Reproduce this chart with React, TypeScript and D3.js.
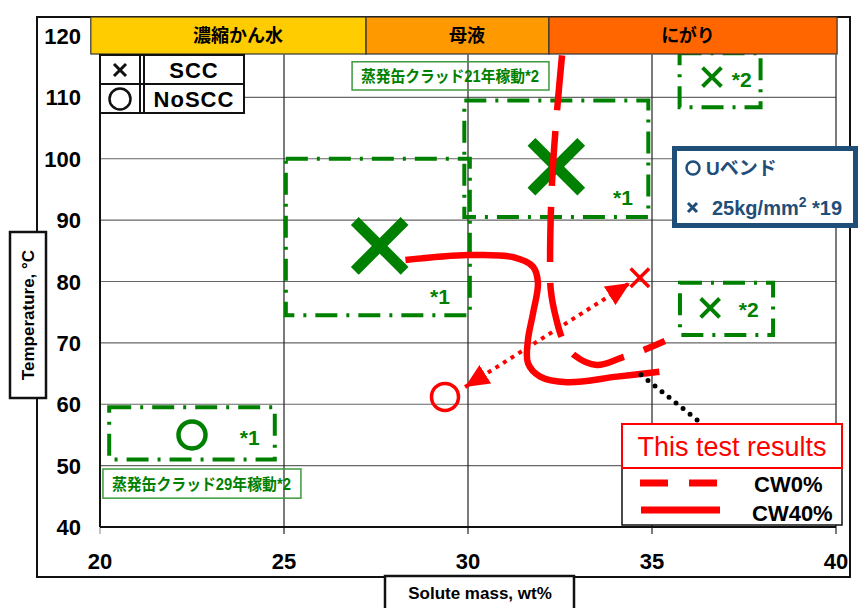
import React, { useEffect, useRef } from 'react';
import * as d3 from 'd3';

const xTicks = [20, 25, 30, 35, 40];
const yTicks = [40, 50, 60, 70, 80, 90, 100, 110, 120];

// solution zones along the top
const zoneNames = ['濃縮かん水', '母液', 'にがり'];
const zoneEdges = [19.75, 27.23, 32.2, 40.03];
const zoneLabelX = [23.75, 29.97, 35.98];
const zoneColors = ['#FFCC00', '#FF9900', '#FF6600'];

// earlier test ranges (dash-dot boxes)
const boxX0 = [20.25, 25.05, 29.9, 35.75, 35.76];
const boxX1 = [24.75, 30.05, 34.9, 37.95, 38.29];
const boxY0 = [51, 74.5, 90.5, 108.4, 71.3];
const boxY1 = [59.5, 100, 109.5, 117.2, 79.8];
const boxNotes = ['*1', '*1', '*1', '*2', '*2'];
const noteX = [23.8, 28.97, 33.94, 37.17, 37.36];
const noteY = [53.4, 76.3, 92.5, 111.7, 74.2];

// plant labels
const plantLabels = ['蒸発缶クラッド21年稼動*2', '蒸発缶クラッド29年稼動*2'];
const plantX0 = [26.85, 20.08];
const plantX1 = [32.2, 25.46];
const plantY0 = [111.2, 44.7];
const plantY1 = [115.8, 49.45];

// points
const sccBig = [[27.6, 85.8], [32.4, 98.7]];
const sccSmall = [[36.63, 113.3], [36.58, 75.7]];
const noScc = [[22.5, 55]];
const testScc = [[34.67, 80.6]];
const testNoScc = [[29.375, 61.2]];

// this test: boundary curves
const cw0 = [
  [32.6, 119.6], [32.42, 107.9], [32.28, 95.7], [32.23, 83.2], [32.25, 78.6],
  [32.39, 74.1], [32.58, 70.5], [32.91, 67.9], [33.5, 66.4], [34.18, 67.6],
  [34.8, 68.9], [35.35, 70.3],
];
const cw40 = [
  [28.3, 83.5], [30.0, 84.3], [31.2, 84.0], [31.77, 82.4], [31.9, 79.8],
  [31.77, 74.9], [31.63, 70.5], [31.63, 66.7], [31.96, 64.5], [32.69, 63.6],
  [34.05, 64.5], [35.2, 65.3],
];

const arrowEnds = [[29.92, 62.8], [34.4, 79.76]];
const pointerLine = [[34.7, 64.8], [36.36, 56.8]];

const GREEN = '#008000';
const RED = '#FF0000';
const BLUE = '#1F4E79';
const LATIN = '"Liberation Sans", Arial, sans-serif';
const CJK = '"Liberation Sans", "Noto Sans CJK JP", sans-serif';

const App = () => {
  const ref = useRef(null);

  useEffect(() => {
    const W = 865;
    const H = 608;
    d3.select(ref.current).selectAll('*').remove();

    const svg = d3.select(ref.current)
      .append('svg')
      .attr('width', W)
      .attr('height', H)
      .style('position', 'absolute')
      .style('left', 0)
      .style('top', 0)
      .style('background', '#fff');

    const x = d3.scaleLinear().domain([20, 40]).range([100, 836]);
    const y = d3.scaleLinear().domain([40, 120]).range([527, 36]);

    const defs = svg.append('defs');
    defs.append('marker')
      .attr('id', 'arrowHead')
      .attr('viewBox', '0 0 24 22')
      .attr('refX', 24)
      .attr('refY', 11)
      .attr('markerWidth', 24)
      .attr('markerHeight', 22)
      .attr('markerUnits', 'userSpaceOnUse')
      .attr('orient', 'auto-start-reverse')
      .append('path')
      .attr('d', 'M0,0 L24,11 L0,22 Z')
      .attr('fill', RED);

    // outer frame
    svg.append('rect')
      .attr('x', 37).attr('y', 17)
      .attr('width', 813).attr('height', 560)
      .attr('fill', 'none').attr('stroke', '#111').attr('stroke-width', 2);

    // gridlines
    const g = svg.append('g');
    g.selectAll('.hgrid')
      .data(yTicks.filter(d => d > 40 && d < 120))
      .enter().append('line')
      .attr('x1', x(20)).attr('x2', x(40))
      .attr('y1', d => y(d)).attr('y2', d => y(d))
      .attr('stroke', '#666').attr('stroke-width', 1.2);
    g.selectAll('.vgrid')
      .data(xTicks)
      .enter().append('line')
      .attr('x1', d => x(d)).attr('x2', d => x(d))
      .attr('y1', d => (d === 20 ? y(40) : y(117))).attr('y2', y(40) + 7)
      .attr('stroke', d => (d === 20 ? '#999' : '#222')).attr('stroke-width', 1.2);

    // axes
    g.append('line')
      .attr('x1', x(20)).attr('x2', x(20)).attr('y1', y(117)).attr('y2', y(40))
      .attr('stroke', '#111').attr('stroke-width', 2);
    g.append('line')
      .attr('x1', x(20)).attr('x2', x(40)).attr('y1', y(40)).attr('y2', y(40))
      .attr('stroke', '#111').attr('stroke-width', 2);

    // tick labels
    g.selectAll('.ylab')
      .data(yTicks)
      .enter().append('text')
      .attr('x', 81).attr('y', d => y(d) + 8)
      .attr('text-anchor', 'end')
      .attr('font-family', LATIN).attr('font-weight', 'bold').attr('font-size', 22)
      .text(d => d);
    g.selectAll('.xlab')
      .data(xTicks)
      .enter().append('text')
      .attr('x', d => x(d)).attr('y', 569)
      .attr('text-anchor', 'middle')
      .attr('font-family', LATIN).attr('font-weight', 'bold').attr('font-size', 22)
      .text(d => d);

    // dash-dot boxes
    const boxes = d3.range(boxX0.length);
    g.selectAll('.box')
      .data(boxes)
      .enter().append('rect')
      .attr('x', i => x(boxX0[i])).attr('y', i => y(boxY1[i]))
      .attr('width', i => x(boxX1[i]) - x(boxX0[i]))
      .attr('height', i => y(boxY0[i]) - y(boxY1[i]))
      .attr('fill', 'none').attr('stroke', GREEN).attr('stroke-width', 4)
      .attr('stroke-dasharray', '22,9,3,9');
    g.selectAll('.note')
      .data(boxes)
      .enter().append('text')
      .attr('x', i => x(noteX[i])).attr('y', i => y(noteY[i]))
      .attr('font-family', LATIN).attr('font-weight', 'bold').attr('font-size', 21)
      .attr('fill', GREEN)
      .text(i => boxNotes[i]);

    // plant labels
    plantLabels.forEach((t, i) => {
      g.append('rect')
        .attr('x', x(plantX0[i])).attr('y', y(plantY1[i]))
        .attr('width', x(plantX1[i]) - x(plantX0[i]))
        .attr('height', y(plantY0[i]) - y(plantY1[i]))
        .attr('fill', 'none').attr('stroke', '#3C9A3C').attr('stroke-width', 1.5);
      g.append('text')
        .attr('x', x(plantX0[i]) + 9)
        .attr('y', (y(plantY0[i]) + y(plantY1[i])) / 2 + 6)
        .attr('textLength', x(plantX1[i]) - x(plantX0[i]) - 19)
        .attr('lengthAdjust', 'spacingAndGlyphs')
        .attr('font-family', CJK).attr('font-weight', 'bold').attr('font-size', 16)
        .attr('fill', GREEN)
        .text(t);
    });

    // green markers
    const cross = (sel, data, half, width, color) => {
      data.forEach(d => {
        const cx = x(d[0]);
        const cy = y(d[1]);
        sel.append('path')
          .attr('d', `M${cx - half},${cy - half}L${cx + half},${cy + half}M${cx - half},${cy + half}L${cx + half},${cy - half}`)
          .attr('stroke', color).attr('stroke-width', width)
          .attr('stroke-linecap', 'square').attr('fill', 'none');
      });
    };
    cross(g, sccBig, 21, 11, GREEN);
    cross(g, sccSmall, 8, 4, GREEN);
    g.selectAll('.noscc')
      .data(noScc)
      .enter().append('circle')
      .attr('cx', d => x(d[0])).attr('cy', d => y(d[1])).attr('r', 13.5)
      .attr('fill', 'none').attr('stroke', GREEN).attr('stroke-width', 4.5);

    // this test results
    const line = d3.line()
      .x(d => x(d[0])).y(d => y(d[1]))
      .curve(d3.curveCatmullRom.alpha(0.5));
    g.append('path')
      .attr('d', line(cw40))
      .attr('fill', 'none').attr('stroke', RED).attr('stroke-width', 6.5);
    g.append('path')
      .attr('d', line(cw0))
      .attr('fill', 'none').attr('stroke', RED).attr('stroke-width', 6.5)
      .attr('stroke-dasharray', '55,21').attr('stroke-dashoffset', 59);

    g.append('line')
      .attr('x1', x(arrowEnds[0][0])).attr('y1', y(arrowEnds[0][1]))
      .attr('x2', x(arrowEnds[1][0])).attr('y2', y(arrowEnds[1][1]))
      .attr('stroke', RED).attr('stroke-width', 4)
      .attr('stroke-dasharray', '4,5')
      .attr('marker-start', 'url(#arrowHead)')
      .attr('marker-end', 'url(#arrowHead)');
    cross(g, testScc, 8, 3.5, RED);
    g.selectAll('.tnoscc')
      .data(testNoScc)
      .enter().append('circle')
      .attr('cx', d => x(d[0])).attr('cy', d => y(d[1])).attr('r', 13.5)
      .attr('fill', 'none').attr('stroke', RED).attr('stroke-width', 3.5);

    g.append('line')
      .attr('x1', x(pointerLine[0][0])).attr('y1', y(pointerLine[0][1]))
      .attr('x2', x(pointerLine[1][0])).attr('y2', y(pointerLine[1][1]))
      .attr('stroke', '#000').attr('stroke-width', 5)
      .attr('stroke-linecap', 'round').attr('stroke-dasharray', '0,9');

    // zone band
    zoneNames.forEach((n, i) => {
      g.append('rect')
        .attr('x', x(zoneEdges[i])).attr('y', 17)
        .attr('width', x(zoneEdges[i + 1]) - x(zoneEdges[i])).attr('height', 37)
        .attr('fill', zoneColors[i]).attr('stroke', '#333').attr('stroke-width', 1.2);
      g.append('text')
        .attr('x', x(zoneLabelX[i])).attr('y', 42)
        .attr('text-anchor', 'middle')
        .attr('font-family', '"Noto Sans CJK JP", sans-serif').attr('font-weight', 'bold')
        .attr('font-size', 18)
        .text(n);
    });

    // SCC key table
    const key = g.append('g');
    key.append('rect').attr('x', 100).attr('y', 55).attr('width', 144).attr('height', 58)
      .attr('fill', '#fff').attr('stroke', '#111').attr('stroke-width', 2);
    key.append('line').attr('x1', 140).attr('x2', 140).attr('y1', 55).attr('y2', 113)
      .attr('stroke', '#111').attr('stroke-width', 2);
    key.append('line').attr('x1', 144).attr('x2', 144).attr('y1', 55).attr('y2', 113)
      .attr('stroke', '#111').attr('stroke-width', 2);
    key.append('line').attr('x1', 100).attr('x2', 244).attr('y1', 84).attr('y2', 84)
      .attr('stroke', '#111').attr('stroke-width', 2);
    key.append('path').attr('d', 'M114,64L126,76M114,76L126,64')
      .attr('stroke', '#111').attr('stroke-width', 3);
    key.append('circle').attr('cx', 120).attr('cy', 99).attr('r', 10.5)
      .attr('fill', 'none').attr('stroke', '#111').attr('stroke-width', 2.5);
    key.append('text').attr('x', 194).attr('y', 78).attr('text-anchor', 'middle')
      .attr('font-family', LATIN).attr('font-weight', 'bold').attr('font-size', 22)
      .attr('letter-spacing', 1)
      .text('SCC');
    key.append('text').attr('x', 194).attr('y', 107).attr('text-anchor', 'middle')
      .attr('font-family', LATIN).attr('font-weight', 'bold').attr('font-size', 22)
      .attr('letter-spacing', 1)
      .text('NoSCC');

    // reference (blue) key
    const bk = g.append('g');
    bk.append('rect').attr('x', 674.5).attr('y', 148.5).attr('width', 181).attr('height', 77)
      .attr('fill', '#fff').attr('stroke', BLUE).attr('stroke-width', 5);
    bk.append('circle').attr('cx', 693).attr('cy', 168).attr('r', 6.5)
      .attr('fill', 'none').attr('stroke', BLUE).attr('stroke-width', 2.5);
    bk.append('text').attr('x', 706).attr('y', 175)
      .attr('font-family', CJK).attr('font-weight', 'bold').attr('font-size', 19)
      .attr('fill', BLUE).text('Uベンド');
    bk.append('path').attr('d', 'M688,203L697,212M688,212L697,203')
      .attr('stroke', BLUE).attr('stroke-width', 3);
    const t2 = bk.append('text').attr('x', 712).attr('y', 215)
      .attr('font-family', LATIN).attr('font-weight', 'bold').attr('font-size', 20)
      .attr('fill', BLUE);
    t2.append('tspan').text('25kg/mm');
    t2.append('tspan').attr('font-size', 14).attr('dy', -8).text('2');
    t2.append('tspan').attr('dy', 8).text(' *19');

    // this test key
    const tk = g.append('g');
    tk.append('rect').attr('x', 622).attr('y', 424).attr('width', 220).attr('height', 101)
      .attr('fill', '#fff').attr('stroke', '#111').attr('stroke-width', 1.5);
    tk.append('rect').attr('x', 622).attr('y', 424).attr('width', 220).attr('height', 44)
      .attr('fill', '#fff').attr('stroke', RED).attr('stroke-width', 2);
    tk.append('text').attr('x', 732).attr('y', 456).attr('text-anchor', 'middle')
      .attr('font-family', LATIN).attr('font-size', 27).attr('fill', RED)
      .text('This test results');
    tk.append('line').attr('x1', 640).attr('x2', 717).attr('y1', 483).attr('y2', 483)
      .attr('stroke', RED).attr('stroke-width', 7).attr('stroke-dasharray', '28,21');
    tk.append('line').attr('x1', 641).attr('x2', 720).attr('y1', 510).attr('y2', 510)
      .attr('stroke', RED).attr('stroke-width', 7);
    tk.append('text').attr('x', 754).attr('y', 492)
      .attr('font-family', LATIN).attr('font-weight', 'bold').attr('font-size', 22)
      .text('CW0%');
    tk.append('text').attr('x', 752).attr('y', 521)
      .attr('font-family', LATIN).attr('font-weight', 'bold').attr('font-size', 22)
      .text('CW40%');

    // axis titles
    g.append('rect').attr('x', 385).attr('y', 576).attr('width', 189).attr('height', 40)
      .attr('fill', '#fff').attr('stroke', '#111').attr('stroke-width', 2.5);
    g.append('text').attr('x', 480).attr('y', 599).attr('text-anchor', 'middle')
      .attr('font-family', LATIN).attr('font-weight', 'bold').attr('font-size', 17)
      .text('Solute mass, wt%');
    g.append('rect').attr('x', 10).attr('y', 232).attr('width', 36).attr('height', 166)
      .attr('fill', '#fff').attr('stroke', '#111').attr('stroke-width', 2.5);
    g.append('text')
      .attr('transform', 'translate(34,315) rotate(-90)')
      .attr('text-anchor', 'middle')
      .attr('font-family', LATIN).attr('font-weight', 'bold').attr('font-size', 17)
      .text('Temperature, °C');
  }, []);

  return <div ref={ref}></div>;
};

export default App;
